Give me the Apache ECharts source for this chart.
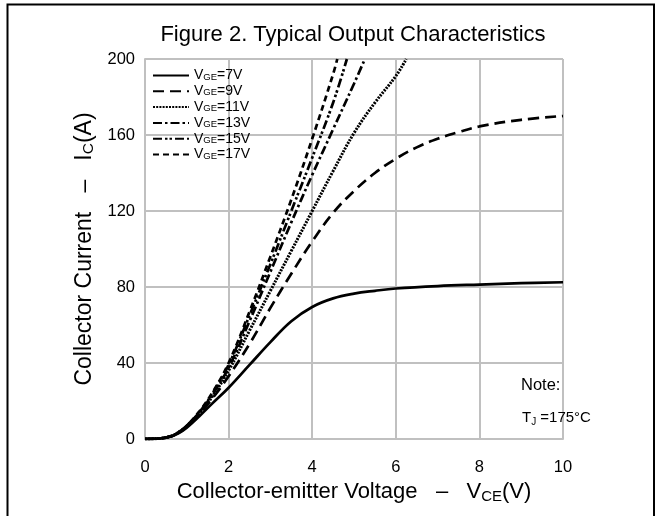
<!DOCTYPE html>
<html><head><meta charset="utf-8">
<script src="https://cdn.jsdelivr.net/npm/echarts@6/dist/echarts.min.js"></script>
<style>html,body{margin:0;padding:0;background:#fff}#c{width:656px;height:516px}</style>
</head><body><div id="c"></div>
<script>
const xTicks = [0, 2, 4, 6, 8, 10];
const yTicks = [0, 40, 80, 120, 160, 200];
const vge = ['7V', '9V', '11V', '13V', '15V', '17V'];

const vce7  = [0, 0.3, 0.6, 0.8, 1, 1.3, 1.6, 2, 2.5, 3, 3.5, 4, 4.5, 5, 5.5, 6, 7, 8, 9, 10];
const ic7   = [0, 0.2, 1.2, 3, 6, 12, 18.5, 27, 39, 51, 62, 69.5, 74, 76.5, 78, 79.2, 80.5, 81.3, 82, 82.5];
const vce9  = [0, 0.3, 0.6, 0.8, 1, 1.3, 1.6, 2, 2.5, 3, 3.5, 4, 4.5, 5, 5.5, 6, 6.5, 7, 7.5, 8, 9, 10];
const ic9   = [0, 0.2, 1.3, 3.3, 6.5, 13, 21, 33, 50, 69, 87, 104, 119, 130.5, 140, 147.5, 153.5, 158, 161.5, 164.5, 168, 170];
const vce11 = [0, 0.3, 0.6, 0.8, 1, 1.3, 1.6, 2, 2.5, 3, 3.5, 4, 4.5, 5, 5.5, 6, 6.25];
const ic11  = [0, 0.2, 1.3, 3.4, 6.8, 13.5, 22, 36, 57, 78, 99, 120, 141, 161, 177, 191, 200];
const vce13 = [0, 0.3, 0.6, 0.8, 1, 1.3, 1.6, 2, 2.5, 3, 3.5, 4, 4.5, 5, 5.26];
const ic13  = [0, 0.2, 1.3, 3.5, 7, 14, 23, 37.5, 62, 88, 114, 139, 163, 187, 200];
const vce15 = [0, 0.3, 0.6, 0.8, 1, 1.3, 1.6, 2, 2.5, 3, 3.5, 4, 4.5, 4.83];
const ic15  = [0, 0.2, 1.3, 3.5, 7, 14, 23.5, 39, 65, 92, 120, 148, 177, 200];
const vce17 = [0, 0.3, 0.6, 0.8, 1, 1.3, 1.6, 2, 2.5, 3, 3.5, 4, 4.5, 4.6];
const ic17  = [0, 0.2, 1.3, 3.5, 7, 14.5, 24, 40, 67, 96, 126, 158, 192, 200];

const dashes = ['solid', [11, 6], [2, 1.2], [9, 3, 2.5, 3], [9, 3, 2.5, 2, 2.5, 3], [6, 4]];
const xs = [vce7, vce9, vce11, vce13, vce15, vce17];
const ys = [ic7, ic9, ic11, ic13, ic15, ic17];

const chart = echarts.init(document.getElementById('c'), null, {renderer: 'canvas'});
const F = 'Liberation Sans, Arial, sans-serif';
const gridColor = '#c0c0c0';

const series = vge.map((v, i) => ({
  name: v,
  type: 'line',
  data: xs[i].map((x, j) => [x, ys[i][j]]),
  smooth: 0.4,
  symbol: 'none',
  showSymbol: false,
  clip: true,
  lineStyle: {color: '#000', width: i === 2 ? 3 : 2.7, type: dashes[i]},
  itemStyle: {color: '#000'}
}));

chart.setOption({
  animation: false,
  backgroundColor: '#fff',
  title: {
    text: 'Figure 2. Typical Output Characteristics',
    left: 348, top: 19, textAlign: 'center',
    textStyle: {fontFamily: F, fontSize: 22, fontWeight: 'normal', color: '#000'}
  },
  legend: {
    orient: 'vertical',
    left: 152, top: 68,
    itemWidth: 36, itemHeight: 10, itemGap: 1.3, padding: 0,
    data: vge,
    itemStyle: {color: 'transparent', borderColor: 'transparent', borderWidth: 0},
    formatter: n => '{a|V}{b|GE}{a|=' + n + '}',
    textStyle: {
      fontFamily: F, color: '#000', padding: [0, 0, 0, 0],
      rich: {
        a: {fontFamily: F, fontSize: 14, color: '#000', lineHeight: 13},
        b: {fontFamily: F, fontSize: 9.5, color: '#000', lineHeight: 13, verticalAlign: 'bottom', padding: [4, 0, 0, 0]}
      }
    }
  },
  grid: {left: 145, right: 93, top: 59, bottom: 77, show: false},
  xAxis: {
    type: 'value', min: 0, max: 10, interval: 2,
    name: '{a|Collector-emitter Voltage   –   V}{b|CE}{a|(V)}',
    nameLocation: 'middle', nameGap: 41,
    nameTextStyle: {
      rich: {
        a: {fontFamily: F, fontSize: 22, color: '#000', lineHeight: 24},
        b: {fontFamily: F, fontSize: 15, color: '#000', lineHeight: 24, verticalAlign: 'bottom', padding: [7, 0, 0, 0]}
      }
    },
    axisLine: {show: true, lineStyle: {color: gridColor, width: 2}},
    axisTick: {show: false},
    axisLabel: {fontFamily: F, fontSize: 16.5, color: '#000', margin: 20},
    splitLine: {show: true, lineStyle: {color: gridColor, width: 2}}
  },
  yAxis: {
    type: 'value', min: 0, max: 200, interval: 40,
    name: '{a|Collector Current   –   I}{b|C}{a|(A)}',
    nameLocation: 'middle', nameGap: 47, nameRotate: 90,
    nameTextStyle: {
      rich: {
        a: {fontFamily: F, fontSize: 23, color: '#000', lineHeight: 24},
        b: {fontFamily: F, fontSize: 15.5, color: '#000', lineHeight: 24, verticalAlign: 'bottom', padding: [7, 0, 0, 0]}
      }
    },
    axisLine: {show: true, lineStyle: {color: gridColor, width: 2}},
    axisTick: {show: false},
    axisLabel: {fontFamily: F, fontSize: 16.5, color: '#000', margin: 10},
    splitLine: {show: true, lineStyle: {color: gridColor, width: 2}}
  },
  graphic: [
    {type: 'rect', shape: {x: 7.5, y: 4.5, width: 646.5, height: 540}, style: {fill: 'none', stroke: '#000', lineWidth: 2}, z: 100},
    {type: 'text', left: 521, top: 377, z: 50, style: {text: 'Note:', font: '16.5px ' + F, fill: '#000'}},
    {type: 'text', left: 522, top: 410, z: 50, style: {
      text: '{a|T}{b|J}{a| =175°C}', fill: '#000',
      rich: {
        a: {fontFamily: F, fontSize: 15, fill: '#000', lineHeight: 20},
        b: {fontFamily: F, fontSize: 10, fill: '#000', lineHeight: 20, verticalAlign: 'bottom', padding: [5, 0, 0, 0]}
      }
    }}
  ],
  series: series
});
</script>
</body></html>
